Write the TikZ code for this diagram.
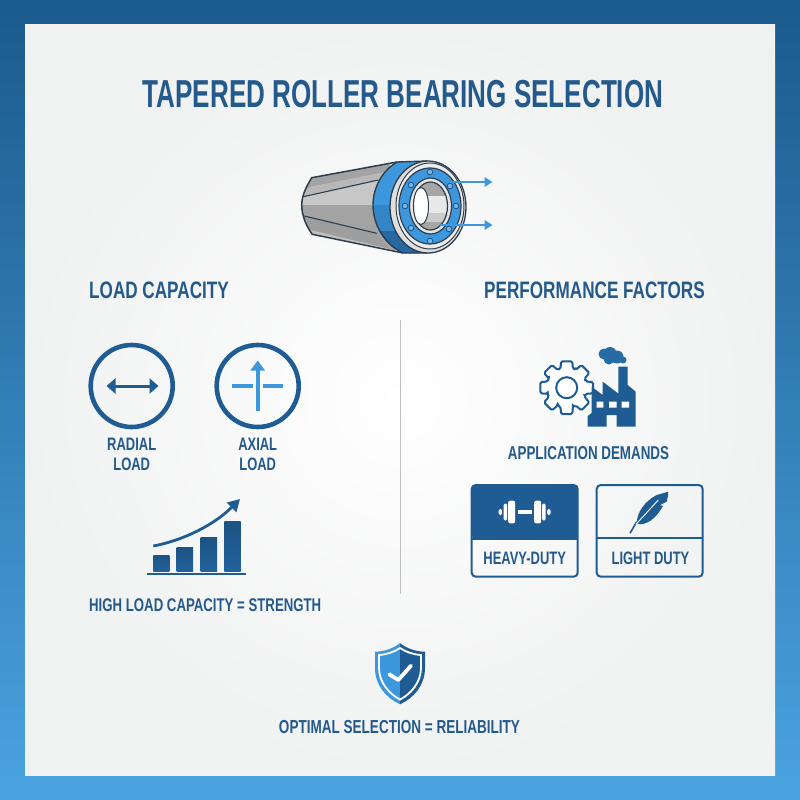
\documentclass[tikz,border=0pt]{standalone}
\usepackage{fontspec}
\setmainfont[FakeStretch=0.72,BoldFont={Liberation Sans Bold}]{Liberation Sans}
\newfontfamily\titlefont[FakeStretch=0.668]{Liberation Sans Bold}
\usetikzlibrary{arrows.meta}
\definecolor{dk}{HTML}{1F5C93}
\definecolor{txt}{HTML}{24598C}
\definecolor{lb}{HTML}{3D97DC}
\definecolor{edge}{HTML}{2F3E4C}
\definecolor{panelc}{HTML}{F0F1F1}
\definecolor{bgtop}{HTML}{1B5A8C}
\definecolor{bgbot}{HTML}{4AA3E0}
\tikzset{
 lbl/.style={inner sep=0pt,text=txt,align=center,font=\bfseries\fontsize{18}{19.3}\selectfont},
 lblw/.style={inner sep=0pt,text=txt,align=center,font=\bfseries\fontsize{18.6}{20}\selectfont},
 head/.style={inner sep=0pt,text=txt,font=\bfseries\fontsize{23.8}{26}\selectfont},
 ring/.style={draw=dk,line width=4.6pt,fill=none},
 boxln/.style={draw=dk,line width=2pt,rounded corners=4pt},
 facet/.style={draw=edge,line width=1.1pt},
 tiplb/.style={-{Triangle[length=8pt,width=9.5pt]},draw=lb,line width=1.9pt}
}
\begin{document}
\begin{tikzpicture}[x=1pt,y=-1pt]
\useasboundingbox (0,0) rectangle (800,800);
\shade[top color=bgtop,bottom color=bgbot] (0,0) rectangle (800,800);
\shade[inner color=white,outer color=panelc,shading=radial] (25,25) rectangle (775,775);

% title
\node[inner sep=0pt,text=txt,font=\titlefont\fontsize{39}{41}\selectfont] (title) at (403,94) {TAPERED ROLLER BEARING SELECTION};

% bearing body
\fill[gray!70!white] (390,163.3) -- (311.7,177.7) .. controls (306,187) and (301.7,196) .. (301.7,205) .. controls (301.7,215) and (306,226) .. (312.3,234.3) -- (395,251.7) -- cycle;
\fill[black!22] (303.3,196.7) -- (378.3,180) -- (374,205) -- (301.7,205) -- cycle;
\fill[black!28] (308,187) -- (384,172) -- (378.3,180) -- (303.3,196.7) -- cycle;
\fill[black!36] (311.7,177.7) -- (390,163.3) -- (384,172) -- (308,187) -- cycle;
\fill[black!36] (301.7,205) -- (374,205) -- (376.7,233.3) -- (304.3,216) -- cycle;
\fill[black!38] (304.3,216) -- (376.7,233.3) -- (390,249) -- (310,230) -- cycle;
\fill[black!24] (310,230) -- (390,249) -- (395,251.7) -- (312.3,234.3) -- cycle;
\draw[facet,line width=1.5pt] (397,162) -- (311.7,177.7) .. controls (306,187) and (301.7,196) .. (301.7,205) .. controls (301.7,215) and (306,226) .. (312.3,234.3) -- (403,253);
\draw[facet] (303.3,196.7) -- (378.3,180);
\draw[facet] (304.3,216) -- (376.7,233.3);
% blue band
\fill[lb] (397,162) -- (428,161) -- (428,253) -- (403,253) .. controls (385,245) and (373,225) .. (373,205) .. controls (373,187) and (383,170) .. (397,162) -- cycle;
\fill[lb!70!dk] (373.2,205) .. controls (373.5,214) and (375,223) .. (379,231) -- (420,231) -- (420,205) -- cycle;
\fill[dk!80!lb] (379,231) .. controls (385,241) and (394,249) .. (403,253) -- (420,253) -- (420,231) -- cycle;
\draw[facet,line width=1.4pt] (397,162) .. controls (383,170) and (373,187) .. (373,205) .. controls (373,225) and (385,245) .. (403,253) -- (428,253) (397,162) -- (428,161);
% face
\filldraw[fill=gray!25,draw=edge,line width=1.3pt] (428,207) ellipse [x radius=38,y radius=46];
\filldraw[fill=gray!15,draw=edge,line width=1pt] (430,206) ellipse [x radius=34,y radius=43];
\filldraw[fill=lb,draw=edge,line width=1.2pt] (430,206) ellipse [x radius=31,y radius=38];
\foreach \a/\b in {430/172,450/186,456/206,449/229,430/241,411/228,405/206,411/185}
  \filldraw[fill=lb!70!white,draw=dk,line width=0.9pt] (\a,\b) circle (2.8);
\filldraw[fill=gray!20,draw=edge,line width=1.2pt] (430.5,206) ellipse [x radius=21,y radius=28];
\begin{scope}
\clip (430.5,206) ellipse [x radius=17,y radius=24];
\fill[gray!70] (410,180) rectangle (450,196);
\fill[gray!18] (410,196) rectangle (450,213);
\fill[gray!40] (410,213) rectangle (450,222);
\fill[gray!70] (410,222) rectangle (450,232);
\end{scope}
\draw[edge,line width=1.2pt] (430.5,206) ellipse [x radius=17,y radius=24];
\filldraw[fill=white,draw=edge,line width=1pt] (421,206) ellipse [x radius=7.5,y radius=18.5];
\coordinate (a1s) at (443,182); \coordinate (a1e) at (492.5,182);
\coordinate (a2s) at (440,225); \coordinate (a2e) at (492.5,225);
\draw[tiplb] (a1s) -- (a1e);
\draw[tiplb] (a2s) -- (a2e);

% headings
\node[head,anchor=west] (lc) at (89,290.5) {LOAD CAPACITY};
\node[head,anchor=west] (pf) at (484,290.5) {PERFORMANCE FACTORS};
\draw[gray!50,line width=1.2pt] (400.5,320) -- (400.5,594);

% load icons
\node[circle,ring,minimum size=82pt] (radial) at (131.7,386) {};
\node[circle,ring,minimum size=82pt] (axial) at (257.7,386) {};
\draw[{Triangle[length=9pt,width=15pt]}-{Triangle[length=9pt,width=15pt]},draw=dk,line width=3pt] (106.5,386) -- (158.5,386);
\draw[lb,line width=4.6pt] (232.3,386) -- (252.7,386) (262.7,386) -- (283.3,386);
\draw[-{Triangle[length=10pt,width=14pt]},draw=lb,line width=4.4pt] (257.7,410.5) -- (257.7,360.5);
\node[lbl] (rl) at (131.7,454.5) {RADIAL\\LOAD};
\node[lbl] (al) at (257.7,454.5) {AXIAL\\LOAD};

% chart
\foreach \xa/\xb/\yt in {153.3/169.3/555,176.7/193/547.7,200.7/217/537,224.3/240.7/521}
  \shade[top color=dk!90!black,bottom color=dk!90!lb] (\xa,\yt) rectangle (\xb,571);
\draw[dk,line width=1.8pt] (147,574.3) -- (246,574.3);
\draw[-{Triangle[length=12pt,width=13pt]},draw=dk,line width=2.8pt] (153.3,546) .. controls (185,540) and (215,524) .. (240,499);
\node[lblw,anchor=west,font=\bfseries\fontsize{18.35}{20}\selectfont] (hl) at (89,605.5) {HIGH LOAD CAPACITY = STRENGTH};

% gear
\begin{scope}[shift={(566.7,387.7)}]
\draw[dk,line width=2pt,fill=white,rounded corners=1.5pt]
 (-18:20) \foreach \a in {0,45,...,315} { -- (\a-18:20) -- (\a-12:27) -- (\a+12:27) -- (\a+18:20) -- (\a+27:20)} -- cycle;
\draw[dk,line width=2pt] (0,0) circle (10.5);
\end{scope}
% factory
\fill[dk] (587.7,426.7) -- (587.7,416) -- (591.7,413) -- (591.7,386.7) -- (602.7,395) -- (602.7,381.7) -- (618.3,393.5) -- (618.3,366.7) -- (627.7,366.7) -- (627.7,385) -- (635.7,391.7) -- (635.7,426.7) -- (616.7,426.7) -- (616.7,415) -- (606.7,415) -- (606.7,426.7) -- cycle;
\fill[white] (596.7,401.7) rectangle (603.3,407.7) (609,401.7) rectangle (616.7,407.7) (621.7,401.7) rectangle (629,407.7);
\fill[dk!75!lb] (604,354) circle (5.5) (610,353.5) circle (6.5) (617,357) circle (6.5) (623,360) circle (3.5) (609,359) circle (5.5);
\node[lblw] (ad) at (588.5,452.7) {APPLICATION DEMANDS};

% boxes
\fill[dk,rounded corners=4pt] (471.7,539) -- (471.7,485) -- (577.7,485) -- (577.7,539) -- cycle;
\draw[boxln] (471.7,485) rectangle (577.7,576.7);
\draw[dk,line width=2pt] (471.7,539) -- (577.7,539);
\draw[boxln] (596.7,485) rectangle (702.7,576.7);
\draw[dk,line width=2pt] (596.7,538) -- (702.7,538);
\node[lbl] (hd) at (524.7,558) {HEAVY-DUTY};
\node[lbl] (ld) at (650.5,558) {LIGHT DUTY};
% dumbbell
\begin{scope}[shift={(524.7,512)}]
\fill[white] (-7,-2.3) rectangle (7,2.3);
\fill[white,rounded corners=1.5pt] (-26,-3) rectangle (-22.5,3) (22.5,-3) rectangle (26,3);
\fill[white,rounded corners=1.5pt] (-21,-8.5) rectangle (-17.5,8.5) (17.5,-8.5) rectangle (21,8.5);
\fill[white,rounded corners=2pt] (-16.5,-11.3) rectangle (-9.5,11.3) (9.5,-11.3) rectangle (16.5,11.3);
\end{scope}
% feather
\fill[dk] (636.7,523.3) .. controls (637,512) and (645,501) .. (656.7,495) -- (668.3,491.7) .. controls (668,496) and (667.5,499) .. (666.7,501.7) -- (660,505) -- (663,506) .. controls (658,515) and (650,524) .. (640,524.3) -- cycle;
\draw[dk,line width=1.6pt] (630,533.3) -- (636.7,521.7);
\draw[white,line width=0.9pt] (636,524.3) -- (658.3,500);

% shield
\fill[lb] (400,643.3) .. controls (392,649) and (384,651.5) .. (375,651.7) -- (375,668) .. controls (375,685) and (386,698) .. (400,704.3) -- cycle;
\fill[dk] (400,643.3) .. controls (408,649) and (416,651.5) .. (425,651.7) -- (425,668) .. controls (425,685) and (414,698) .. (400,704.3) -- cycle;
\draw[white,line width=1.8pt] (400,648) .. controls (394,652) and (387,654.5) .. (379,655) -- (379,668) .. controls (379,682) and (389,694) .. (400,699.5) .. controls (411,694) and (421,682) .. (421,668) -- (421,655) .. controls (413,654.5) and (406,652) .. (400,648) -- cycle;
\draw[white,line width=3.8pt,line cap=round,line join=round] (389.3,674.3) -- (398.3,680) -- (411,665.7);
\node[lblw,font=\bfseries\fontsize{18.8}{20}\selectfont] (op) at (399.5,727) {OPTIMAL SELECTION = RELIABILITY};
\end{tikzpicture}
\end{document}
